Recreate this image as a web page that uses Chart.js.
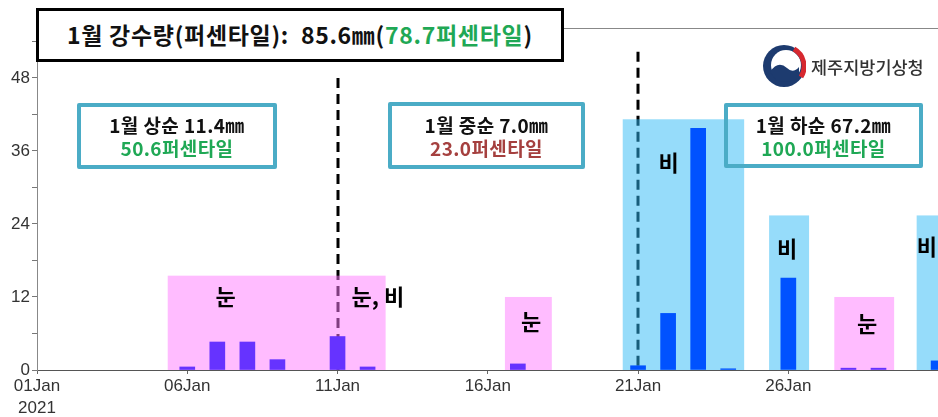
<!DOCTYPE html>
<html><head><meta charset="utf-8">
<script src="https://cdn.jsdelivr.net/npm/chart.js@4.4.1/dist/chart.umd.min.js"></script>
<style>
html,body{margin:0;padding:0;background:#fff;}
#wrap{position:relative;width:938px;height:417px;overflow:hidden;font-family:"Noto Sans CJK KR","Noto Sans",sans-serif;}
#c{position:absolute;left:0;top:0;}
.title{position:absolute;left:36px;top:8px;width:528px;height:54px;border:3px solid #000;background:#fff;box-sizing:border-box;font-weight:700;font-size:23px;letter-spacing:0.7px;line-height:47px;padding-left:28px;white-space:nowrap;color:#111;}
.dek{position:absolute;box-sizing:border-box;border:4px solid #4bacc6;border-radius:2px;display:flex;flex-direction:column;justify-content:center;align-items:center;font-weight:700;font-size:19px;letter-spacing:0.4px;line-height:23px;white-space:nowrap;color:#111;}
.g{color:#1fa855}.r{color:#a5403f}
.kma{position:absolute;left:811px;top:55px;font-size:17.5px;line-height:24px;color:#333;font-weight:500;white-space:nowrap;}
</style>
</head><body>
<div id="wrap">
<canvas id="c" width="938" height="417"></canvas>
<div class="title">1월 강수량(퍼센타일):&nbsp; 85.6㎜(<span class="g">78.7퍼센타일</span>)</div>
<div class="dek" style="left:77px;top:103px;width:200px;height:66px;"><div>1월 상순 11.4㎜</div><div class="g">50.6퍼센타일</div></div>
<div class="dek" style="left:388px;top:102px;width:197px;height:67px;"><div>1월 중순 7.0㎜</div><div class="r">23.0퍼센타일</div></div>
<div class="dek" style="left:724px;top:103px;width:199px;height:65px;"><div>1월 하순 67.2㎜</div><div class="g">100.0퍼센타일</div></div>
<svg style="position:absolute;left:762px;top:44px" width="44" height="44" viewBox="-22 -22 44 44">
 <circle r="21" fill="#1d3b6f"/>
 <circle cx="2" cy="-1" r="15" fill="#fff"/>
 <path d="M -14 6 Q -6 -6 3 2 Q 9 8 15 1 L 15 12 Q 4 18 -8 14 Z" fill="#1d3b6f"/>
 <path d="M 10 -17 A 20 20 0 0 1 17 11" stroke="#d6282f" stroke-width="5" fill="none"/>
</svg>
<div class="kma">제주지방기상청</div>
</div>
<script>
// daily precipitation (mm), January 2021
const snowDays=[6,7,8,9,11,12,17,28,29];
const snowPrecip=[0.5,4.6,4.6,1.7,5.5,0.5,1.0,0.3,0.3];
const rainDays=[21,22,23,24,26,31];
const rainPrecip=[0.7,9.3,39.7,0.2,15.1,1.5];
// axis ticks
const xTickDays=[1,6,11,16,21,26];
const xTickLabels=["01Jan","06Jan","11Jan","16Jan","21Jan","26Jan"];
const yearLabel="2021";
const yTickValues=[0,6,12,18,24,30,36,42,48,54];
const yLabelStep=12;
// precipitation-type periods (day range, height in mm)
const periodStart=[5.35,16.57,20.49,25.36,27.53,30.27];
const periodEnd=[12.6,18.13,24.53,26.69,29.52,32];
const periodTop=[15.5,12,41.2,25.4,12,25.4];
const periodType=["snow","snow","rain","rain","snow","rain"];
const periodLabels=["눈","눈, 비","눈","비","비","눈","비"];
// dekad dividers
const dividerDays=[11,21];

// styling / placement config
const periodFill={snow:'rgba(255,122,255,0.5)',rain:'rgba(45,185,245,0.5)'};
const labelAnchors=[[7.28,12.05],[12.34,12.05],[17.44,7.95],[22.02,34.0],[25.96,20.0],[28.62,7.6],[30.61,20.3]];
const dividerTopValues=[48,52.3];

const overlay={
 id:'overlay',
 beforeDatasetsDraw(chart){
  const {ctx,chartArea:a,scales:{x,y}}=chart;
  ctx.save();
  ctx.strokeStyle='#888';ctx.lineWidth=1;
  ctx.beginPath();ctx.moveTo(a.left,a.top+0.5);ctx.lineTo(a.right,a.top+0.5);ctx.stroke();
  ctx.beginPath();ctx.rect(a.left,a.top,a.right-a.left,a.bottom-a.top);ctx.clip();
  ctx.strokeStyle='#000';ctx.lineWidth=3;ctx.setLineDash([10,6]);
  dividerDays.forEach((d,i)=>{
   const px=Math.round(x.getPixelForValue(d));
   ctx.beginPath();ctx.moveTo(px,y.getPixelForValue(dividerTopValues[i]));ctx.lineTo(px,y.getPixelForValue(0));ctx.stroke();
  });
  ctx.setLineDash([]);
  periodStart.forEach((s,i)=>{
   const x0=x.getPixelForValue(s),x1=x.getPixelForValue(periodEnd[i]);
   const y0=y.getPixelForValue(periodTop[i]),y1=y.getPixelForValue(0);
   ctx.fillStyle=periodFill[periodType[i]];
   ctx.fillRect(x0,y0,x1-x0,y1-y0);
  });
  ctx.fillStyle='#000';ctx.font='700 22px "Noto Sans CJK KR"';ctx.textAlign='center';ctx.textBaseline='middle';
  periodLabels.forEach((t,i)=>{
   ctx.fillText(t,x.getPixelForValue(labelAnchors[i][0]),y.getPixelForValue(labelAnchors[i][1]));
  });
  ctx.restore();
 }
};

const tickFont={family:'"Liberation Sans", Arial, sans-serif',size:17,lineHeight:1.25};
new Chart(document.getElementById('c'),{
 type:'bar',
 data:{datasets:[
  {data:snowDays.map((d,i)=>({x:d,y:snowPrecip[i]})),backgroundColor:'#6633ff',barThickness:15,grouped:false},
  {data:rainDays.map((d,i)=>({x:d,y:rainPrecip[i]})),backgroundColor:'#0052ff',barThickness:15,grouped:false}
 ]},
 options:{
  responsive:false,animation:false,
  layout:{padding:{top:28,left:0,right:0,bottom:0}},
  plugins:{legend:{display:false},tooltip:{enabled:false}},
  scales:{
   x:{type:'linear',min:1,max:30.98,offset:false,
    afterBuildTicks:s=>{s.ticks=xTickDays.map(v=>({value:v}));},
    afterFit:s=>{s.height=47;},
    ticks:{autoSkip:false,maxRotation:0,minRotation:0,padding:2,color:'#333',font:tickFont,
     callback:(v)=>{const k=xTickDays.indexOf(v);if(k<0)return '';return k===0?[xTickLabels[k],yearLabel]:xTickLabels[k];}},
    grid:{display:true,offset:false,drawOnChartArea:false,drawTicks:true,tickLength:4,color:'#666'},
    border:{display:true,color:'#555',width:1}
   },
   y:{min:0,max:56.2,
    afterBuildTicks:s=>{s.ticks=yTickValues.map(v=>({value:v}));},
    afterFit:s=>{s.width=37;},
    ticks:{padding:2,color:'#333',font:tickFont,callback:v=>v%yLabelStep===0?String(v):''},
    grid:{display:true,drawOnChartArea:false,drawTicks:true,tickLength:5,color:'#777'},
    border:{display:true,color:'#888',width:1}
   }
  }
 },
 plugins:[overlay]
});
</script>
</body></html>
